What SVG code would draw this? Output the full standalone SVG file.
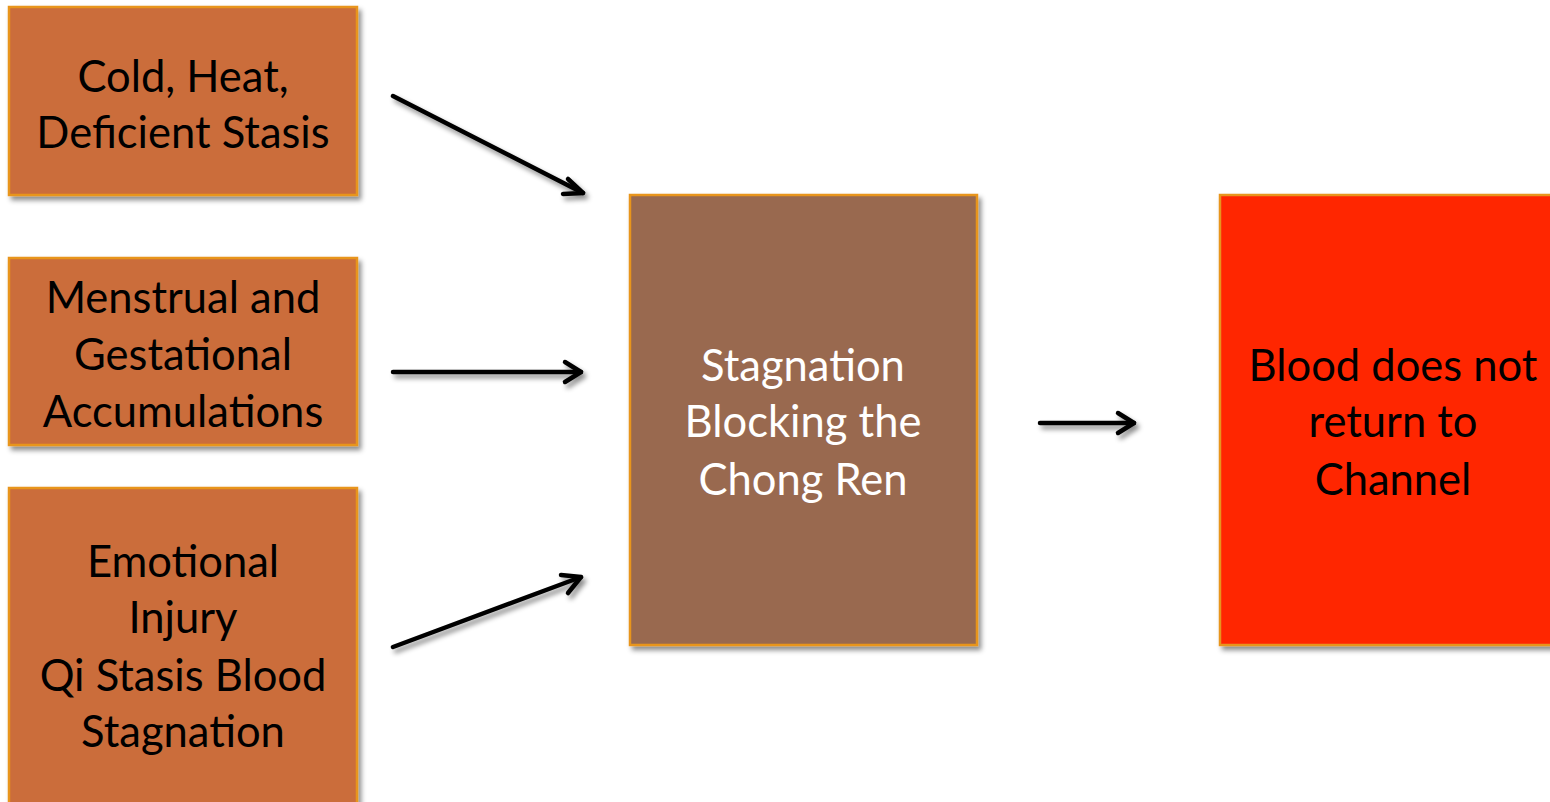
<svg xmlns="http://www.w3.org/2000/svg" width="1550" height="802" viewBox="0 0 1550 802">
<style>
.box{stroke:#E8951E;stroke-width:2.5}
.src{fill:#CB6D3A}
.mid{fill:#996950}
.res{fill:#FF2600}
.t{font-family:Lato,"Open Sans","Liberation Sans",sans-serif;font-size:43.5px;text-anchor:middle}
.dark{fill:#000}
.light{fill:#fff}
.arr{stroke:#000;stroke-width:4.5;fill:none;stroke-linecap:round;stroke-linejoin:round}
</style>
<defs>
<filter id="sh" x="-10%" y="-10%" width="130%" height="130%">
<feDropShadow dx="3" dy="4" stdDeviation="2.5" flood-color="#000" flood-opacity="0.45"/>
</filter>
</defs>
<rect width="1550" height="802" fill="#fff"/>
<g id="n1">
<rect class="box src" x="9" y="7" width="348" height="188" filter="url(#sh)"/>
<text class="t dark"><tspan x="183" y="92">Cold, Heat,</tspan><tspan x="183" y="148">Deficient Stasis</tspan></text>
</g>
<g id="n2">
<rect class="box src" x="9" y="258" width="348" height="187" filter="url(#sh)"/>
<text class="t dark"><tspan x="183" y="313">Menstrual and</tspan><tspan x="183" y="370">Gestational</tspan><tspan x="183" y="427">Accumulations</tspan></text>
</g>
<g id="n3">
<rect class="box src" x="9" y="488" width="348" height="330" filter="url(#sh)"/>
<text class="t dark"><tspan x="183" y="577">Emotional</tspan><tspan x="183" y="633">Injury</tspan><tspan x="183" y="691">Qi Stasis Blood</tspan><tspan x="183" y="747">Stagnation</tspan></text>
</g>
<g id="n4">
<rect class="box mid" x="630" y="195" width="347" height="450" filter="url(#sh)"/>
<text class="t light"><tspan x="803" y="381">Stagnation</tspan><tspan x="803" y="437">Blocking the</tspan><tspan x="803" y="495">Chong Ren</tspan></text>
</g>
<g id="n5">
<rect class="box res" x="1220" y="195" width="347" height="450" filter="url(#sh)"/>
<text class="t dark"><tspan x="1393" y="381">Blood does not</tspan><tspan x="1393" y="437">return to</tspan><tspan x="1393" y="495">Channel</tspan></text>
</g>
<g id="connectors" filter="url(#sh)">
<path class="arr" d="M393,96 L583,193"/>
<path class="arr" d="M568,179 L583,193 L563,194"/>
<path class="arr" d="M393,372 L581,372"/>
<path class="arr" d="M565,362 L581,372 L565,382"/>
<path class="arr" d="M393,647 L581,577"/>
<path class="arr" d="M561,575 L581,577 L568,593"/>
<path class="arr" d="M1040,423 L1134,423"/>
<path class="arr" d="M1118,413 L1134,423 L1118,433"/>
</g>
</svg>
